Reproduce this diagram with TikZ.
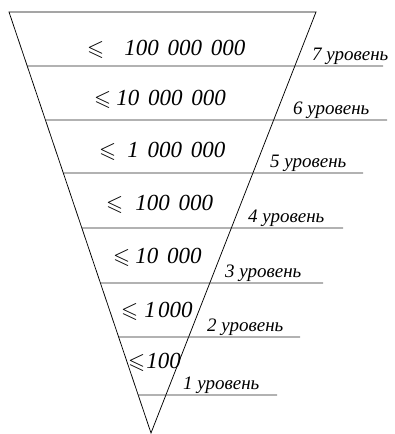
\documentclass[tikz,border=0pt]{standalone}
\usepackage{amssymb}
\usepackage{fontspec}
\setmainfont{Liberation Serif}
\usetikzlibrary{calc}
\newcommand{\gap}{\hspace{0.38em}}
\newcommand{\lesign}[1]{{\fontsize{22}{22}\selectfont$\leqslant$}\hspace{#1pt}}
\tikzset{
  edge/.style={line width=0.75pt},
  levelline/.style={line width=0.6pt,black!85},
  bound/.style={font=\fontsize{23}{23}\selectfont\itshape,anchor=base west,inner sep=0pt},
  lvl/.style={font=\fontsize{19}{19}\selectfont\itshape,anchor=base west,inner sep=0pt}
}

\begin{document}
\begin{tikzpicture}[x=1pt,y=-1pt]
\useasboundingbox (0,0) rectangle (395,434);
% the funnel
\coordinate (tl) at (9,12);
\coordinate (tr) at (316,12);
\coordinate (apex) at (151,433);
\draw[edge] (tl) -- (tr) -- (apex) -- cycle;
% level lines and names: number/y of line/right end/x of name
\foreach \n/\y/\r/\lx in {7/66/383/312,6/120/387/293,5/173/363/270,4/228/343/248,
  3/283/323/225,2/337/300/207,1/395/277/183} {
  \pgfmathsetmacro{\t}{(\y-12)/421}
  \coordinate (l\n) at ($(tl)!\t!(apex)$);
  \coordinate (r\n) at (\r,\y);
  \draw[levelline] (l\n) -- (r\n);
  \node[lvl] (name\n) at (\lx,\y-6) {\n\ уровень};
}
% bounds inside the funnel
\node[bound] (b7) at (87,55) {\lesign{20}100\gap 000\gap 000};
\node[bound] (b6) at (94,105) {\lesign{5}10\gap 000\gap 000};
\node[bound] (b5) at (99,157) {\lesign{11}1\gap 000\gap 000};
\node[bound] (b4) at (106,210) {\lesign{12}100\gap 000};
\node[bound] (b3) at (113,263) {\lesign{5}10\gap 000};
\node[bound] (b2) at (121,317) {\lesign{6}1\hspace{0.1em}000};
\node[bound] (b1) at (128,368) {\lesign{1}100};
\end{tikzpicture}
\end{document}
